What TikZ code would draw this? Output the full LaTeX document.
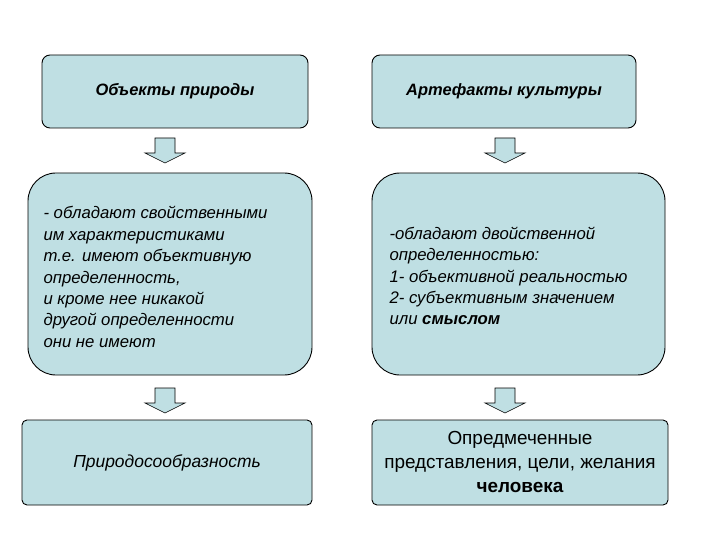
\documentclass[tikz,border=0pt]{standalone}
\usepackage{fontspec}
\setmainfont{Liberation Sans}
\definecolor{tl}{HTML}{BFDFE3}
\begin{document}
\begin{tikzpicture}[x=1bp,y=-1bp,
 bx/.style={draw=black,fill=tl,line width=0.9bp},
 tx/.style={font=\fontsize{16.8}{21.5}\selectfont\itshape,align=left},
 darr/.style={draw=black,fill=tl,line width=0.6bp}]
\useasboundingbox (0,0) rectangle (720,540);
\draw[bx,rounded corners=8bp] (42,55) rectangle (308,128) node[pos=.5,tx,font=\fontsize{16.5}{20}\selectfont\bfseries\itshape] (t1) {Объекты природы};
\draw[bx,rounded corners=8bp] (372,55) rectangle (636,128) node[pos=.5,tx,font=\fontsize{16.5}{20}\selectfont\bfseries\itshape] (t2) {Артефакты культуры};
\draw[bx,rounded corners=28bp] (28,173) rectangle (312,375);
\node[tx,anchor=west] (m1) at (40,277) {- обладают свойственными\\им характеристиками\\т.е. имеют объективную\\определенность,\\и кроме нее никакой\\другой определенности\\они не имеют};
\draw[bx,rounded corners=28bp] (372,173) rectangle (665,375);
\node[tx,anchor=west] (m2) at (386,276) {-обладают двойственной\\определенностью:\\1- объективной реальностью\\2- субъективным значением\\или \textbf{смыслом}};
\draw[bx,rounded corners=5bp] (22,420) rectangle (312,505) node[pos=.5,tx,font=\fontsize{17.5}{21}\selectfont\itshape] (b1) {Природосообразность};
\draw[bx,rounded corners=5bp] (372,420) rectangle (668,505);
\node[align=center,font=\fontsize{19}{24.5}\selectfont] (b2) at (520,462) {Опредмеченные\\представления, цели, желания\\\textbf{человека}};
\foreach \cx/\cy in {165/138,505/138,165/388,505/388}
 \draw[darr] (\cx-10,\cy) -- (\cx+10,\cy) -- (\cx+10,\cy+15) -- (\cx+20,\cy+15) -- (\cx,\cy+25) -- (\cx-20,\cy+15) -- (\cx-10,\cy+15) -- cycle;
\end{tikzpicture}
\end{document}
